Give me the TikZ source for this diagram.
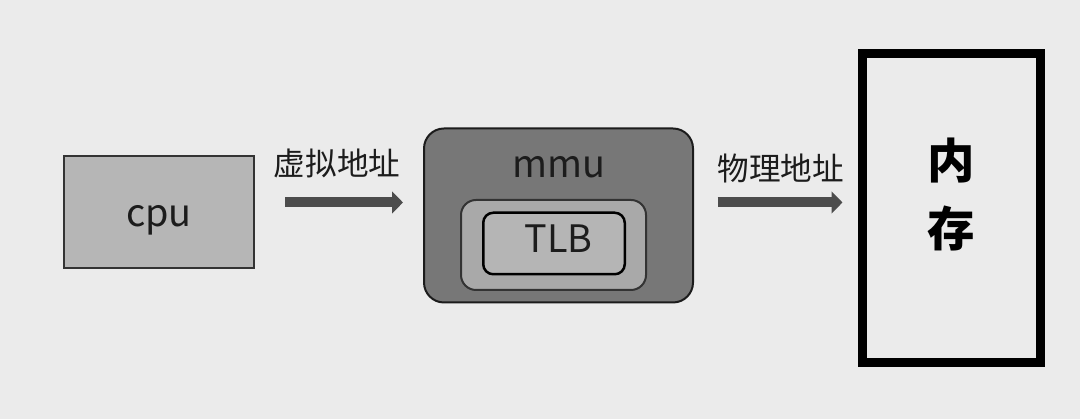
\documentclass[tikz,border=0pt]{standalone}
\usepackage{fontspec}
\setmainfont{Noto Sans CJK SC}
\usetikzlibrary{positioning, calc, arrows.meta}
\definecolor{Paper}{HTML}{EBEBEB}
\definecolor{Ink}{HTML}{1C1C1C}
\definecolor{CpuGray}{HTML}{B6B6B6}
\definecolor{MmuGray}{HTML}{777777}
\definecolor{RingGray}{HTML}{A9A9A9}
\definecolor{TlbGray}{HTML}{B5B5B5}
\definecolor{ArrowGray}{HTML}{4C4C4C}
\tikzset{
    bigtext/.style={font=\fontsize{21.5}{26}\selectfont, text=Ink, text height=16pt, text depth=5.4pt},
    addrtext/.style={font=\fontsize{18}{22}\selectfont, text=Ink, text height=13.5pt, text depth=4.5pt},
    cpubox/.style={rectangle, draw=Ink!90, line width=0.04cm, fill=CpuGray, minimum width=3.80cm, minimum height=2.24cm, bigtext, text height=22pt},
    mmubox/.style={rectangle, rounded corners=0.4cm, draw=Ink, line width=0.04cm, fill=MmuGray, minimum width=5.38cm, minimum height=3.48cm},
    ringbox/.style={rectangle, rounded corners=0.3cm, draw=Ink!90, line width=0.04cm, fill=RingGray, minimum width=3.70cm, minimum height=1.80cm},
    tlbbox/.style={rectangle, rounded corners=0.2cm, draw=black, line width=0.05cm, fill=TlbGray, minimum width=2.83cm, minimum height=1.23cm, bigtext},
    membox/.style={rectangle, draw=black, line width=0.18cm, fill=Paper, minimum width=3.56cm, minimum height=6.18cm},
    memtext/.style={font=\fontsize{27}{38.7}\selectfont\bfseries, text=black, align=center},
    flow/.style={line width=0.2cm, color=ArrowGray, -{Triangle[width=0.43cm, length=0.22cm]}},
}
\begin{document}
\begin{tikzpicture}
    % sfondo
    \fill[Paper] (0,0) rectangle (21.6,8.38);
    \useasboundingbox (0,0) rectangle (21.6,8.38);

    % blocchi
    \node[cpubox] (cpu) at (3.18,4.14) {cpu};
    \node[mmubox] (mmu) at (11.17,4.07) {};
    \node[bigtext] (mmulabel) at ([yshift=-0.81cm]mmu.north) {mmu};
    \node[ringbox] (ring) at (11.07,3.48) {};
    \node[tlbbox] (tlb) at (11.08,3.51) {\hspace{0.18cm}TLB};
    \node[membox] (mem) at (19.02,4.21) {};
    \node[memtext] (memlabel) at (19.02,4.48) {内\\存};

    % frecce
    \draw[flow, shorten <=0.6cm, shorten >=0.4cm]
        ([yshift=0.19cm]cpu.east) -- ([yshift=0.19cm]cpu.east -| mmu.west)
        node[addrtext, midway, yshift=0.7cm, xshift=-0.04cm] (vaddr) {虚拟地址};
    \draw[flow, shorten <=0.47cm, shorten >=0.3cm]
        ([yshift=0.26cm]mmu.east) -- ([yshift=0.26cm]mmu.east -| mem.west)
        node[addrtext, midway, yshift=0.59cm, xshift=0.1cm] (paddr) {物理地址};
\end{tikzpicture}
\end{document}
